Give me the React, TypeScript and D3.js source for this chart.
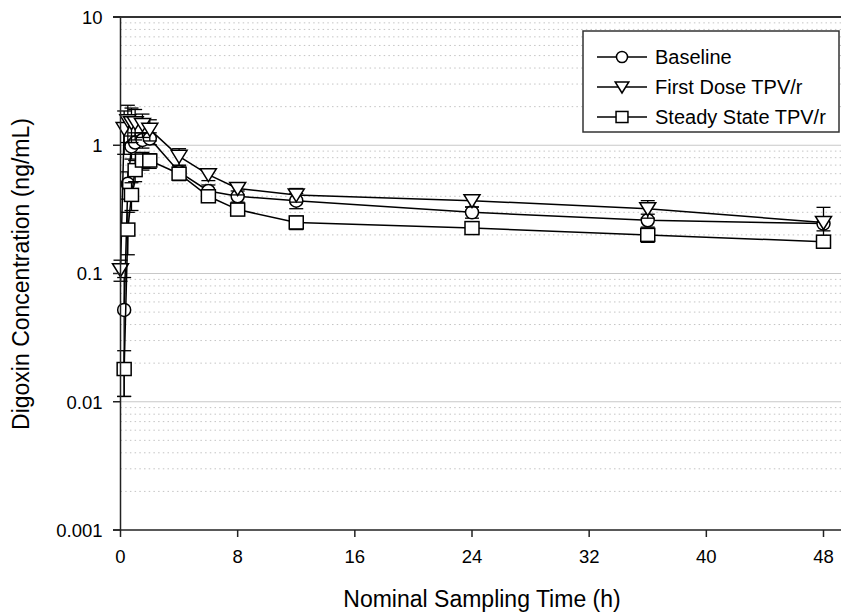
import React from "react";
import * as d3 from "d3";

// ---- data ----
const baselineTimes = [0.25, 0.5, 0.75, 1, 1.5, 2, 4, 6, 8, 12, 24, 36, 48];
const baselineMean = [0.052, 0.5, 0.98, 1.05, 1.1, 1.13, 0.62, 0.44, 0.4, 0.37, 0.3, 0.26, 0.245];
const baselineSD = [0.041, 0.12, 0.2, 0.2, 0.15, 0.12, 0.07, 0.05, 0.04, 0.05, 0.03, 0.03, 0.03];

const firstDoseTimes = [0, 0.25, 0.5, 0.75, 1, 1.5, 2, 4, 6, 8, 12, 24, 36, 48];
const firstDoseMean = [0.107, 1.35, 1.55, 1.5, 1.5, 1.45, 1.33, 0.82, 0.59, 0.46, 0.41, 0.37, 0.32, 0.25];
const firstDoseSD = [0.02, 0.5, 0.5, 0.45, 0.4, 0.3, 0.25, 0.12, 0.06, 0.05, 0.05, 0.04, 0.05, 0.078];

const steadyTimes = [0.25, 0.5, 0.75, 1, 1.5, 2, 4, 6, 8, 12, 24, 36, 48];
const steadyMean = [0.018, 0.22, 0.41, 0.64, 0.76, 0.76, 0.6, 0.4, 0.315, 0.25, 0.226, 0.2, 0.177];
const steadySD = [0.007, 0.08, 0.1, 0.12, 0.12, 0.1, 0.07, 0.04, 0.03, 0.03, 0.02, 0.025, 0.02];

const seriesNames = ["Baseline", "First Dose TPV/r", "Steady State TPV/r"];
const xTicks = [0, 8, 16, 24, 32, 40, 48];
const yTicks = [0.001, 0.01, 0.1, 1, 10];
const yTickLabels = ["0.001", "0.01", "0.1", "1", "10"];

const W = 841;
const H = 615;
const FONT = "'Liberation Sans', Arial, sans-serif";

type Shape = "circle" | "triangle" | "square";

function Marker({ shape, cx, cy, s = 1 }: { shape: Shape; cx: number; cy: number; s?: number }) {
  const st = { fill: "#fff", stroke: "#000", strokeWidth: 1.5 };
  if (shape === "circle") return <circle cx={cx} cy={cy} r={6.5 * s} {...st} />;
  if (shape === "square") return <rect x={cx - 7 * s} y={cy - 6.5 * s} width={14 * s} height={13 * s} {...st} />;
  const p = `${cx - 8 * s},${cy - 6 * s} ${cx + 8 * s},${cy - 6 * s} ${cx},${cy + 7 * s}`;
  return <polygon points={p} {...st} />;
}

export default function App() {
  const x = d3.scaleLinear().domain([0, 48]).range([120.5, 823.5]);
  const y = d3.scaleLog().domain([0.001, 10]).range([530, 17]);
  const xLeft = 120.5;
  const xRight = 845;

  const minor: number[] = [];
  for (let e = -3; e < 1; e++) {
    for (let k = 2; k <= 9; k++) minor.push(k * Math.pow(10, e));
  }

  const series = [
    { name: seriesNames[0], t: baselineTimes, m: baselineMean, sd: baselineSD, shape: "circle" as Shape },
    { name: seriesNames[1], t: firstDoseTimes, m: firstDoseMean, sd: firstDoseSD, shape: "triangle" as Shape },
    { name: seriesNames[2], t: steadyTimes, m: steadyMean, sd: steadySD, shape: "square" as Shape },
  ];

  const line = d3
    .line<[number, number]>()
    .x((d) => x(d[0]))
    .y((d) => y(d[1]));

  return (
    <svg width={W} height={H} style={{ display: "block", position: "absolute", left: 0, top: 0 }} fontFamily={FONT}>
      <rect x={0} y={0} width={W} height={H} fill="#fff" />
      {/* minor gridlines */}
      {minor.map((v, i) => (
        <line key={"mn" + i} x1={xLeft} x2={xRight} y1={y(v)} y2={y(v)} stroke="#c4c4c4" strokeWidth={1} strokeDasharray="1.5,3.2" />
      ))}
      {/* major gridlines */}
      {yTicks.slice(1, 4).map((v, i) => (
        <line key={"mj" + i} x1={xLeft} x2={xRight} y1={y(v)} y2={y(v)} stroke="#c8c8c8" strokeWidth={1.2} />
      ))}

      {series.map((s, si) => {
        const pts: [number, number][] = s.t.map((t, i) => [t, s.m[i]]);
        return (
          <g key={"s" + si}>
            {s.t.map((t, i) => {
              const cx = x(t);
              const hi = s.m[i] + s.sd[i];
              const lo = s.m[i] - s.sd[i];
              const yHi = y(hi);
              const yLo = lo > 0.001 ? y(lo) : 530;
              return (
                <g key={"e" + i} stroke="#000" strokeWidth={1.3}>
                  <line x1={cx} x2={cx} y1={yHi} y2={yLo} />
                  <line x1={cx - 7} x2={cx + 7} y1={yHi} y2={yHi} />
                  {lo > 0.001 && <line x1={cx - 7} x2={cx + 7} y1={yLo} y2={yLo} />}
                </g>
              );
            })}
            <path d={line(pts) || ""} fill="none" stroke="#000" strokeWidth={1.5} />
            {pts.map((p, i) => (
              <Marker key={"m" + i} shape={s.shape} cx={x(p[0])} cy={y(p[1])} />
            ))}
          </g>
        );
      })}

      {/* axes */}
      <line x1={xLeft} x2={xLeft} y1={17} y2={530} stroke="#222" strokeWidth={1.5} />
      <line x1={113} x2={xRight} y1={17} y2={17} stroke="#333" strokeWidth={2} />
      <line x1={113} x2={xRight} y1={530} y2={530} stroke="#222" strokeWidth={1.5} />
      {yTicks.map((v, i) => (
        <g key={"yt" + i}>
          <line x1={113} x2={xLeft} y1={y(v)} y2={y(v)} stroke="#222" strokeWidth={1.5} />
          <text x={102.5} y={y(v) + 6.8} textAnchor="end" fontSize={18.5} fill="#000">
            {yTickLabels[i]}
          </text>
        </g>
      ))}
      {xTicks.map((v, i) => (
        <g key={"xt" + i}>
          <line x1={x(v)} x2={x(v)} y1={530} y2={537} stroke="#222" strokeWidth={1.5} />
          <text x={x(v)} y={563} textAnchor="middle" fontSize={18.5} fill="#000">
            {v}
          </text>
        </g>
      ))}
      <text x={482} y={607} textAnchor="middle" fontSize={23} fill="#000">
        Nominal Sampling Time (h)
      </text>
      <text transform={`translate(29,274) rotate(-90)`} textAnchor="middle" fontSize={23} fill="#000">
        Digoxin Concentration (ng/mL)
      </text>

      {/* legend */}
      <rect x={583} y={31} width={256} height={101} fill="#fff" stroke="#333" strokeWidth={1.5} />
      {series.map((s, i) => {
        const ly = 57 + i * 30;
        return (
          <g key={"lg" + i}>
            <line x1={597} x2={647} y1={ly} y2={ly} stroke="#000" strokeWidth={1.5} />
            <Marker shape={s.shape} cx={622} cy={ly} s={0.85} />
            <text x={655} y={ly + 7} fontSize={20} fill="#000">
              {s.name}
            </text>
          </g>
        );
      })}
    </svg>
  );
}
